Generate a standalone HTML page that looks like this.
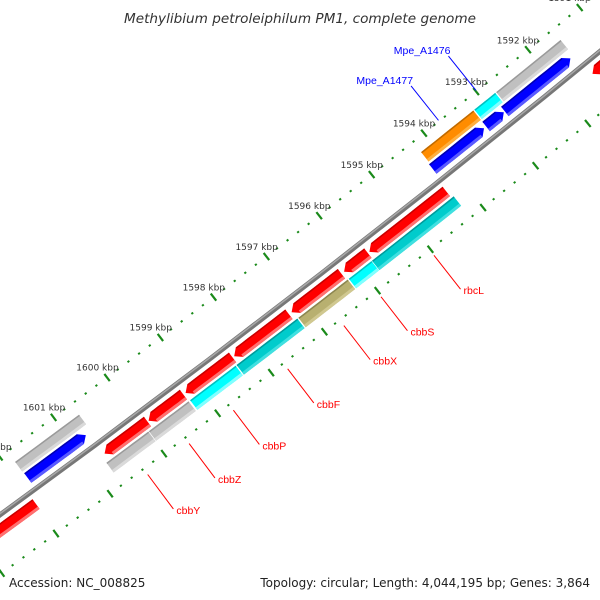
<!DOCTYPE html>
<html><head><meta charset="utf-8">
<style>
html,body{margin:0;padding:0;background:#fff;}
svg{display:block;font-family:"DejaVu Sans","Liberation Sans",sans-serif;}
</style></head>
<body>
<svg id="map" width="600" height="600" viewBox="0 0 600 600" xmlns="http://www.w3.org/2000/svg">
<text x="300" y="23" text-anchor="middle" font-size="13" font-style="italic" fill="#333" textLength="352" lengthAdjust="spacingAndGlyphs">Methylibium petroleiphilum PM1, complete genome</text>
<text x="9" y="587" font-size="12" fill="#222">Accession: NC_008825</text>
<text x="590" y="587" text-anchor="end" font-size="12" fill="#222">Topology: circular; Length: 4,044,195 bp; Genes: 3,864</text>
<g id="plot"></g>
</svg>
<script>
// tick data (kbp)
const majorTicks = [1590,1591,1592,1593,1594,1595,1596,1597,1598,1599,1600,1601,1602,1603];
const tickLabels = ["1590 kbp","1591 kbp","1592 kbp","1593 kbp","1594 kbp","1595 kbp","1596 kbp","1597 kbp","1598 kbp","1599 kbp","1600 kbp","1601 kbp","1602 kbp","1603 kbp"];
// inner red track (arrow at end)
const redStarts = [1591000,1594280,1595770,1596270,1597260,1598320,1599240,1599910,1601980];
const redEnds   = [1591480,1595740,1596220,1597210,1598290,1599200,1599890,1600710,1603500];
// inner box track
const boxStarts = [1594240,1595800,1596250,1597200,1598360,1599240,1599990];
const boxEnds   = [1595790,1596230,1597180,1598340,1599210,1599980,1600770];
const boxColors = ["teal","cyan","olive","teal","cyan","grey","grey"];
const geneNames = ["rbcL","cbbS","cbbX","cbbF","cbbP","cbbZ","cbbY"];
// outer blue track (arrow at start)
const blueStarts = [1591590,1592870,1593250,1600770];
const blueEnds   = [1592850,1593210,1594230,1601850];
// outer box track
const oboxStarts = [1591530,1592790,1593210,1600670];
const oboxEnds   = [1592770,1593190,1594210,1601860];
const oboxColors = ["grey","cyan","orange","grey"];
const blueLabelNames = ["Mpe_A1476","Mpe_A1477"];
const blueLabelPos = [1592990,1593710];

const NS="http://www.w3.org/2000/svg";
const g=document.getElementById('plot');
function circle3(a,b,c){
  const d=2*(a[0]*(b[1]-c[1])+b[0]*(c[1]-a[1])+c[0]*(a[1]-b[1]));
  const s1=a[0]*a[0]+a[1]*a[1], s2=b[0]*b[0]+b[1]*b[1], s3=c[0]*c[0]+c[1]*c[1];
  const ux=(s1*(b[1]-c[1])+s2*(c[1]-a[1])+s3*(a[1]-b[1]))/d;
  const uy=(s1*(c[0]-b[0])+s2*(a[0]-c[0])+s3*(b[0]-a[0]))/d;
  return [ux,uy,Math.hypot(a[0]-ux,a[1]-uy)];
}
const [cx,cy,R]=circle3([0,515],[300,290],[580,68]);
const aA=Math.atan2(137-cy,427-cx), aB=Math.atan2(422-cy,57-cx);
const kA=(aB-aA)/7000;
function pt(bp,off){const a=aA+(bp-1594000)*kA;const r=R-off;return [cx+r*Math.cos(a),cy+r*Math.sin(a)];}
function el(tag,attrs){const e=document.createElementNS(NS,tag);for(const k in attrs)e.setAttribute(k,attrs[k]);g.appendChild(e);return e;}
function arcPts(b1,b2,off){const n=8,o=[];for(let i=0;i<=n;i++)o.push(pt(b1+(b2-b1)*i/n,off));return o;}
function ps(arr){return arr.map(p=>p[0].toFixed(1)+','+p[1].toFixed(1)).join(' ');}

// backbone
let bb=el('polyline',{points:ps(arcPts(1588000,1605000,0)),fill:'none',stroke:'#777','stroke-width':5});


let bb2=el('polyline',{points:ps(arcPts(1588000,1605000,1)),fill:'none',stroke:'#a8a8a8','stroke-width':1.5});



// ticks
const tickColor='#1a8a1a';
[47,-48].forEach((ring)=>{
  for(let b=1589000;b<=1604000;b+=200){
    const major=(b%1000===0);
    const a=pt(b,ring+(major?4.5:1)), c=pt(b,ring-(major?4.5:1));
    const t=el('line',{x1:a[0],y1:a[1],x2:c[0],y2:c[1],stroke:tickColor,'stroke-width':2.2});
    
    
  }
});
majorTicks.forEach((k,i)=>{
  const p=pt(k*1000,63);
  const t=el('text',{x:p[0],y:p[1]+6,'text-anchor':'middle','font-size':9,fill:'#333'});
  t.textContent=tickLabels[i];
  
  
});

const pal={red:['#ff0000','#ff7070','#c80000'],blue:['#0000ff','#5a5aff','#0000b0'],grey:['#c0c0c0','#dadada','#9a9a9a'],
  cyan:['#00ffff','#80ffff','#00c0c0'],teal:['#00cccc','#40e0e0','#009a9a'],olive:['#b8b070','#d0c890','#8c8650'],orange:['#ff8c00','#ffb040','#c06a00']};
const W=12;
function block(s,e,center,color,arrow,name){
  const lo=center-W/2, hi=center+W/2, ah=100;
  let shape;
  if(arrow==='end'){
    shape=arcPts(s,e-ah,hi).concat([pt(e,center)]).concat(arcPts(e-ah,s,lo));
  }else if(arrow==='start'){
    shape=[pt(s,center)].concat(arcPts(s+ah,e,hi)).concat(arcPts(e,s+ah,lo));
  }else{
    shape=arcPts(s,e,hi).concat(arcPts(e,s,lo));
  }
  const c=pal[color];
  const p=el('polygon',{points:ps(shape),fill:c[0]});
  
  
  const bs=arrow==='start'?s+ah:s, be=arrow==='end'?e-ah:e;
  const l=el('polygon',{points:ps(arcPts(bs,be,lo+3).concat(arcPts(be,bs,lo))),fill:c[1]});
  
  
  const d=el('polygon',{points:ps(arcPts(bs,be,hi).concat(arcPts(be,bs,hi-1.5))),fill:c[2]});
  
  
}
redStarts.forEach((s,i)=>block(s,redEnds[i],-12.5,'red','end','red-gene-'+i));
boxStarts.forEach((s,i)=>block(s,boxEnds[i],-27,boxColors[i],null,'gene-'+geneNames[i]));
blueStarts.forEach((s,i)=>block(s,blueEnds[i],13.5,'blue','start','blue-gene-'+i));
oboxStarts.forEach((s,i)=>block(s,oboxEnds[i],28,oboxColors[i],null,'outer-gene-'+i));

// inner gene labels
geneNames.forEach((n,i)=>{
  const m=(boxStarts[i]+boxEnds[i])/2;
  const a=pt(m,-55), b=pt(m,-98);
  const ln=el('line',{x1:a[0],y1:a[1],x2:b[0],y2:b[1],stroke:'#ff0000','stroke-width':1});
  
  
  const t=el('text',{x:b[0]+3,y:b[1]+5,'font-size':10.5,fill:'#ff0000','font-family':'Liberation Sans, sans-serif'});
  t.textContent=n;
  
  
});
// outer blue labels
blueLabelNames.forEach((n,i)=>{
  const m=blueLabelPos[i];
  const a=pt(m,48), b=pt(m,92);
  const ln=el('line',{x1:a[0],y1:a[1],x2:b[0],y2:b[1],stroke:'#0000ff','stroke-width':1});
  
  
  const t=el('text',{x:b[0]+2,y:b[1]-2,'text-anchor':'end','font-size':10.5,fill:'#0000ff','font-family':'Liberation Sans, sans-serif'});
  t.textContent=n;
  
  
});
</script>
</body></html>
